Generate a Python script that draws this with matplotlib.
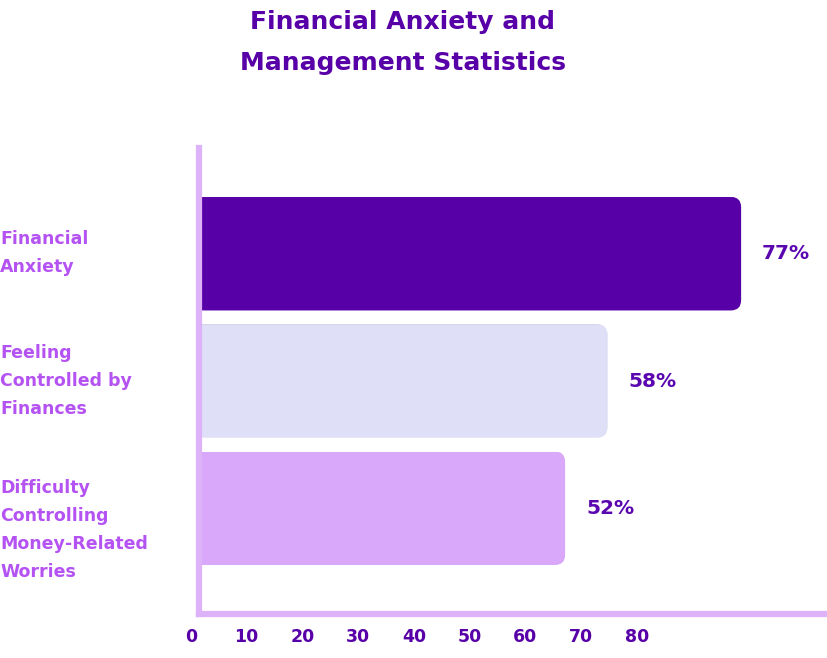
import matplotlib
matplotlib.use("Agg")
import matplotlib.pyplot as plt
from matplotlib.patches import FancyBboxPatch
import numpy as np

categories = ["Financial\nAnxiety", "Feeling\nControlled by\nFinances",
              "Difficulty\nControlling\nMoney-Related\nWorries"]
values = [77, 58, 52]
bar_colors = ["#5800A8", "#DFDFF8", "#D9A8FA"]
edge_colors = ["#5800A8", "#C9C9E0", "#D9A8FA"]
tick_labels = ["0", "10", "20", "30", "40", "50", "60", "70", "80"]
title = "Financial Anxiety and\nManagement Statistics"

FONT = ["DejaVu Sans"]
W, H = 828, 658
fig = plt.figure(figsize=(W/100, H/100), dpi=100)
zero_px = 199
ax_l, ax_r, ax_t, ax_b = 180, 828, 148, 614
px_x = 7.04
ax = fig.add_axes([ax_l/W, 1-ax_b/H, (ax_r-ax_l)/W, (ax_b-ax_t)/H])

xmin, xmax = -(zero_px-ax_l)/px_x, (ax_r-zero_px)/px_x
ax.set_xlim(xmin, xmax)
ax.set_ylim(2.83, -0.83)
px_y = (ax_b-ax_t)/3.66
ypos = np.arange(len(values))
bars = ax.barh(ypos, values, height=0.89, color=bar_colors,
               edgecolor=edge_colors, linewidth=0.8, zorder=2)

r_px = 10
for b, v, yy in zip(bars, values, ypos):
    clip = FancyBboxPatch((-5, yy-0.445), v+5, 0.89,
                          boxstyle=f"round,pad=0,rounding_size={r_px/px_x}",
                          mutation_aspect=px_x/px_y,
                          transform=ax.transData, facecolor="none", edgecolor="none")
    ax.add_patch(clip)
    clip.set_visible(False)
    b.set_clip_path(clip)
    ax.text(v + 21/px_x, yy, f"{v}%", ha="left", va="center",
            fontsize=14.5, fontweight="bold", color="#5B07B0", family=FONT)

for s in ["top", "right"]:
    ax.spines[s].set_visible(False)
ax.spines["left"].set_position(("data", 0))
ax.spines["bottom"].set_bounds(0, xmax)
for s in ["left", "bottom"]:
    ax.spines[s].set_color("#DDB2F9")
    ax.spines[s].set_linewidth(4.5)
    ax.spines[s].set_zorder(3)

ax.set_yticks([])
label_centers_px = [253, 381, 530]
for lab, cy in zip(categories, label_centers_px):
    fig.text(0.0, 1-cy/H, lab, ha="left", va="center",
             fontsize=12.5, fontweight="bold", color="#B452F2", family=FONT,
             linespacing=1.7)

tick_x = [(-8.3 + 55.8*k)/px_x for k in range(len(tick_labels))]
ax.set_xticks(tick_x)
ax.set_xticklabels(tick_labels, fontsize=12.5, fontweight="bold",
                   color="#5800A8", family=FONT)
ax.tick_params(axis="x", length=0, pad=10)

fig.text(403/W, 1-42.5/H, title, ha="center", va="center", fontsize=18,
         fontweight="bold", color="#5800A8", family=FONT, linespacing=1.85)

fig.savefig("out.png", dpi=100, facecolor="white")
